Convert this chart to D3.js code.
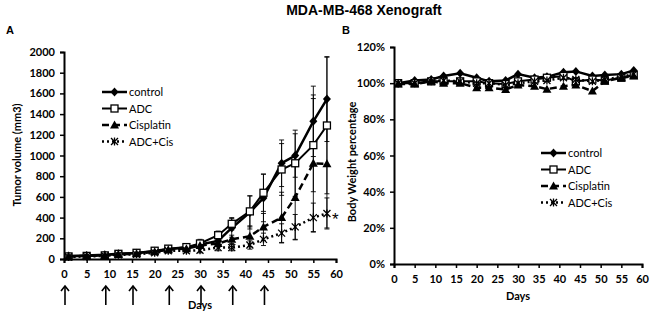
<!DOCTYPE html>
<html>
<head>
<meta charset="utf-8">
<script src="https://cdn.jsdelivr.net/npm/d3@7"></script>
<style>
  body { margin: 0; background: #fff; }
  svg text { font-family: Lato, "Liberation Sans", sans-serif; fill: #000; }
  .tick text { font-weight: bold; font-size: 11px; }
  .axis path, .axis line { stroke: #000; }
</style>
</head>
<body>
<div id="chart"></div>
<script>
// measurement days (both panels)
const days = [1, 5, 9, 12, 16, 20, 23, 27, 30, 34, 37, 41, 44, 48, 51, 55, 58];
const treatDays = [0, 9, 15, 23, 30, 37, 44];
const seriesNames = ["control", "ADC", "Cisplatin", "ADC+Cis"];

// panel A: tumor volume (mm3)
const ctrlVol  = [30, 35, 40, 50, 55, 75, 95, 110, 140, 175, 300, 450, 590, 925, 1000, 1330, 1545];
const adcVol   = [25, 30, 35, 50, 60, 80, 100, 115, 150, 230, 340, 460, 640, 865, 925, 1100, 1290];
const cisVol   = [25, 30, 35, 45, 50, 70, 90, 100, 130, 150, 190, 220, 310, 400, 595, 925, 920];
const comboVol = [20, 25, 30, 40, 45, 60, 80, 80, 85, 110, 110, 135, 190, 250, 310, 400, 440];
const ctrlErr  = [8, 8, 10, 12, 15, 20, 25, 25, 35, 40, 90, 160, 230, 225, 210, 340, 410];
const adcErr   = [8, 8, 10, 12, 15, 20, 25, 30, 40, 40, 60, 150, 180, 250, 320, 450, 660];
const cisErr   = [8, 8, 10, 10, 12, 15, 20, 25, 30, 35, 40, 100, 130, 245, 410, 660, 620];
const comboErr = [6, 6, 8, 10, 10, 15, 20, 20, 25, 30, 30, 40, 60, 90, 120, 140, 150];
const volTicks = [0, 200, 400, 600, 800, 1000, 1200, 1400, 1600, 1800, 2000];

// panel B: body weight (%)
const ctrlBW  = [100, 101.5, 102, 104, 105.5, 103, 101, 101.5, 105, 103, 103.5, 106, 106.5, 104, 104.5, 105, 107];
const adcBW   = [100, 100, 101, 101, 101, 101, 100, 99.5, 101, 102, 103, 104, 101, 102, 101.5, 103, 104.5];
const cisBW   = [99.5, 99.5, 101, 100, 100, 97.5, 97.5, 96.5, 99, 98.3, 96.7, 98.3, 99, 95.6, 101, 103, 104];
const comboBW = [100, 100, 101, 101.5, 101, 100, 100, 99, 100, 101, 101.5, 103, 102, 101, 102, 103.5, 105];
const bwTicks = [0, 20, 40, 60, 80, 100, 120];
const dayTicks = [0, 5, 10, 15, 20, 25, 30, 35, 40, 45, 50, 55, 60];

const styles = [
  {dash: null, width: 2.5, marker: "diamond"},
  {dash: null, width: 2, marker: "square"},
  {dash: "7,4", width: 2.5, marker: "triangle"},
  {dash: "2,3", width: 2.5, marker: "star"}
];

const svg = d3.select("#chart").append("svg")
  .attr("width", 650).attr("height", 315);

svg.append("text").attr("x", 364).attr("y", 15)
  .attr("text-anchor", "middle")
  .style("font-family", "Liberation Sans, Arial, sans-serif")
  .style("font-weight", "bold").style("font-size", "14px")
  .text("MDA-MB-468 Xenograft");

function drawMarker(g, type, x, y) {
  if (type === "diamond") {
    g.append("path").attr("d", `M${x},${y-4.5}L${x+4},${y}L${x},${y+4.5}L${x-4},${y}Z`)
      .attr("fill", "#000");
  } else if (type === "square") {
    g.append("rect").attr("x", x - 3.5).attr("y", y - 3.5).attr("width", 7).attr("height", 7)
      .attr("fill", "#fff").attr("stroke", "#000").attr("stroke-width", 1.3);
  } else if (type === "triangle") {
    g.append("path").attr("d", `M${x},${y-4.5}L${x+4.5},${y+3.5}L${x-4.5},${y+3.5}Z`)
      .attr("fill", "#000");
  } else {
    g.append("path")
      .attr("d", `M${x-3.5},${y-3.5}L${x+3.5},${y+3.5}M${x-3.5},${y+3.5}L${x+3.5},${y-3.5}M${x},${y-4}L${x},${y+4}`)
      .attr("stroke", "#000").attr("stroke-width", 1.3).attr("fill", "none");
  }
}

function drawPanel(cfg) {
  const x = d3.scaleLinear().domain([0, 60]).range([cfg.left, cfg.right]);
  const y = d3.scaleLinear().domain([0, cfg.ymax]).range([cfg.bottom, cfg.top]);
  const g = svg.append("g");

  // error bars
  if (cfg.errs) {
    cfg.values.forEach((vals, si) => {
      const eg = g.append("g").attr("stroke", "#000").attr("stroke-width", 0.9);
      vals.forEach((v, i) => {
        const e = cfg.errs[si][i];
        const px = x(days[i]);
        eg.append("line").attr("x1", px).attr("x2", px).attr("y1", y(v + e)).attr("y2", y(Math.max(0, v - e)));
        [v + e, Math.max(0, v - e)].forEach(t => {
          eg.append("line").attr("x1", px - 2.5).attr("x2", px + 2.5).attr("y1", y(t)).attr("y2", y(t));
        });
      });
    });
  }

  const line = d3.line().x((d, i) => x(days[i])).y(d => y(d));
  cfg.values.forEach((vals, si) => {
    const st = styles[si];
    g.append("path").datum(vals).attr("d", line)
      .attr("fill", "none").attr("stroke", "#000")
      .attr("stroke-width", st.width)
      .attr("stroke-dasharray", st.dash);
    const mg = g.append("g");
    vals.forEach((v, i) => drawMarker(mg, st.marker, x(days[i]), y(v)));
  });

  // axes
  const xAxis = g.append("g").attr("class", "axis")
    .attr("transform", `translate(0,${cfg.bottom})`)
    .call(d3.axisBottom(x).tickValues(dayTicks).tickSize(4).tickPadding(5));
  const yAxis = g.append("g").attr("class", "axis")
    .attr("transform", `translate(${cfg.left},0)`)
    .call(d3.axisLeft(y).tickValues(cfg.ticks).tickSize(4).tickPadding(5).tickFormat(cfg.fmt));
  [xAxis, yAxis].forEach(a => {
    a.select(".domain").attr("stroke-width", 2);
    a.selectAll(".tick line").attr("stroke-width", 1.5);
  });
  xAxis.selectAll(".tick text").attr("dy", "0.9em");

  g.append("text").attr("x", (cfg.left + cfg.right) / 2).attr("y", cfg.daysY)
    .attr("text-anchor", "middle").style("font-size", "11px").style("font-weight", "bold")
    .text("Days");

  g.append("text")
    .attr("transform", `translate(${cfg.ytitleX},${cfg.ytitleY}) rotate(-90)`)
    .attr("text-anchor", "middle").style("font-size", "11px").style("font-weight", "bold")
    .text(cfg.ytitle);

  g.append("text").attr("x", cfg.letterX).attr("y", 34)
    .style("font-family", "Liberation Sans, Arial, sans-serif")
    .style("font-size", "11px").style("font-weight", "bold").text(cfg.letter);

  // legend
  const lg = g.append("g");
  seriesNames.forEach((name, i) => {
    const st = styles[i];
    const ly = cfg.legY + i * 16.5;
    lg.append("line").attr("x1", cfg.legX).attr("x2", cfg.legX + 25)
      .attr("y1", ly).attr("y2", ly).attr("stroke", "#000")
      .attr("stroke-width", st.width).attr("stroke-dasharray", st.dash);
    drawMarker(lg, st.marker, cfg.legX + 12.5, ly);
    lg.append("text").attr("x", cfg.legX + 27).attr("y", ly + 4)
      .style("font-size", "11px").text(name);
  });
  return {x, y};
}

const A = drawPanel({
  left: 64, right: 336, top: 52, bottom: 259, ymax: 2000,
  ticks: volTicks, fmt: d3.format("d"),
  values: [ctrlVol, adcVol, cisVol, comboVol],
  errs: [ctrlErr, adcErr, cisErr, comboErr],
  daysY: 309, ytitle: "Tumor volume (mm3)", ytitleX: 21, ytitleY: 155,
  letter: "A", letterX: 6, legX: 102, legY: 92
});

// asterisk marking significance at the last point
svg.append("text").attr("x", A.x(58) + 5).attr("y", A.y(comboVol[comboVol.length - 1]) + 12)
  .style("font-family", "Liberation Sans, Arial, sans-serif")
  .style("font-size", "17px").text("*");

// treatment arrows
const ag = svg.append("g").attr("stroke", "#000").attr("fill", "none").attr("stroke-width", 1.6);
treatDays.forEach(d => {
  const px = A.x(d) + 1;
  ag.append("line").attr("x1", px).attr("x2", px).attr("y1", 305).attr("y2", 287);
  ag.append("path").attr("d", `M${px-4},${291}L${px},${286}L${px+4},${291}`);
});

drawPanel({
  left: 394, right: 642, top: 47, bottom: 264, ymax: 120,
  ticks: bwTicks, fmt: d => d + "%",
  values: [ctrlBW, adcBW, cisBW, comboBW],
  errs: null,
  daysY: 300, ytitle: "Body Weight percentage", ytitleX: 356, ytitleY: 162,
  letter: "B", letterX: 342, legX: 541, legY: 153
});
</script>
</body>
</html>
